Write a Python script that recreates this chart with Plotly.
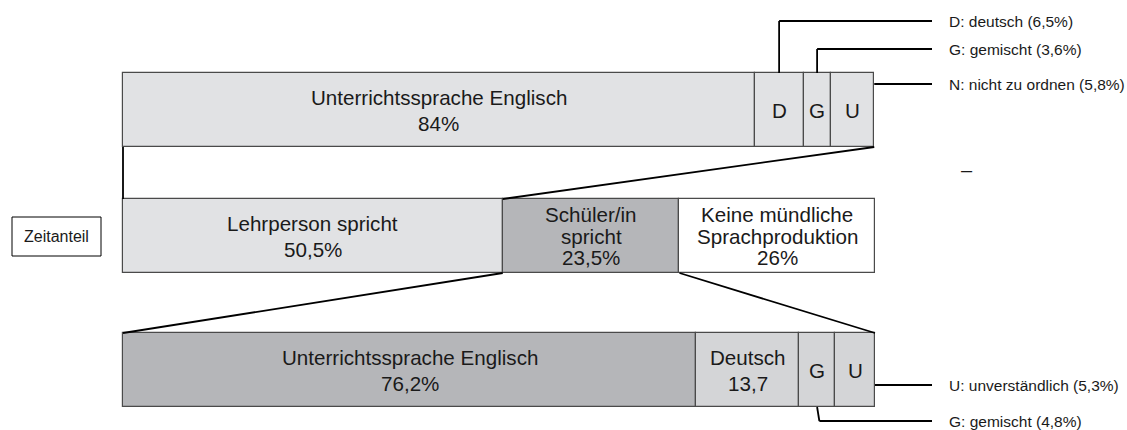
import plotly.graph_objects as go

# ---------------- data ----------------
top_labels = ["Unterrichtssprache Englisch<br>84%", "D", "G", "U"]
top_values = [84, 6.5, 3.6, 5.8]

mid_labels = ["Lehrperson spricht<br>50,5%", "Schüler/in<br>spricht<br>23,5%",
              "Keine mündliche<br>Sprachproduktion<br>26%"]
mid_values = [50.5, 23.5, 26]

bot_labels = ["Unterrichtssprache Englisch<br>76,2%", "Deutsch<br>13,7", "G", "U"]
bot_values = [76.2, 13.7, 4.8, 5.3]

top_callouts = ["D: deutsch (6,5%)", "G: gemischt (3,6%)", "N: nicht zu ordnen (5,8%)"]
bot_callouts = ["U: unverständlich (5,3%)", "G: gemischt (4,8%)"]
side_label = "Zeitanteil"
dash_label = "–"

# ---------------- styling / layout ----------------
W, H = 1127, 430
PLOT_L, PLOT_R = 123, 875
SCALE = (PLOT_R - PLOT_L) / 100.0


def px(xp):
    return (xp - PLOT_L) / SCALE


LIGHT = "#e1e2e4"
DARK = "#b5b6b9"
MIDG = "#d4d5d7"
WHITE = "#ffffff"
top_colors = [LIGHT, LIGHT, LIGHT, LIGHT]
mid_colors = [LIGHT, DARK, WHITE]
bot_colors = [DARK, MIDG, MIDG, MIDG]

ROW_H = 74
rows = [
    (top_labels, top_values, top_colors, 110),
    (mid_labels, mid_values, mid_colors, 236),
    (bot_labels, bot_values, bot_colors, 370),
]
FONT = "Liberation Sans, Arial, sans-serif"
TXT = "#1a1a1a"
BIG = 20.6
SMALL = 15.5

fig = go.Figure()
annotations = []
shapes = []


def starts(vals):
    out, acc = [], 0.0
    for v in vals:
        out.append(acc)
        acc += v
    return out


for labels, vals, colors, yc in rows:
    b = starts(vals)
    fig.add_trace(go.Bar(
        orientation="h", y=[yc] * len(vals), x=vals, base=b,
        width=[ROW_H] * len(vals),
        marker=dict(color=colors, line=dict(color="#4a4a4a", width=1.2)),
        hoverinfo="skip", showlegend=False))
    for lab, v, s in zip(labels, vals, b):
        lines = lab.split("<br>")
        n = len(lines)
        sp = 26 if n <= 2 else 21.5
        for i, ln in enumerate(lines):
            annotations.append(dict(
                x=s + v / 2, y=yc + (i - (n - 1) / 2) * sp, text=ln,
                showarrow=False, xanchor="center", yanchor="middle",
                font=dict(family=FONT, size=BIG, color=TXT)))

top_y0, top_y1 = 110 - ROW_H / 2, 110 + ROW_H / 2
mid_y0, mid_y1 = 236 - ROW_H / 2, 236 + ROW_H / 2
bot_y0, bot_y1 = 370 - ROW_H / 2, 370 + ROW_H / 2

LINE = dict(color="black", width=1.8)


def seg(x0, y0, x1, y1):
    shapes.append(dict(type="line", x0=x0, y0=y0, x1=x1, y1=y1, line=LINE,
                       xref="x", yref="y"))


# connectors: top bar -> "Lehrperson spricht"; "Schüler/in spricht" -> bottom bar
ms = starts(mid_values)
seg(0, top_y1, ms[0], mid_y0)
seg(sum(top_values), top_y1, ms[0] + mid_values[0], mid_y0)
seg(ms[1], mid_y1, 0, bot_y0)
seg(ms[1] + mid_values[1], mid_y1, sum(bot_values), bot_y0)

X_END = px(932)
X_LAB = px(947)

# top callouts
ts = starts(top_values)
top_call_y = [21, 49, 84]
d_x = ts[1] + top_values[1] / 2
g_x = ts[2] + top_values[2] / 2
seg(d_x, top_y0, d_x, top_call_y[0]); seg(d_x, top_call_y[0], X_END, top_call_y[0])
seg(g_x, top_y0, g_x, top_call_y[1]); seg(g_x, top_call_y[1], X_END, top_call_y[1])
seg(sum(top_values), top_call_y[2], X_END, top_call_y[2])
for lab, yy in zip(top_callouts, top_call_y):
    annotations.append(dict(x=X_LAB, y=yy, text=lab, showarrow=False,
                            xanchor="left", yanchor="middle",
                            font=dict(family=FONT, size=SMALL, color=TXT)))

# bottom callouts
bs = starts(bot_values)
bot_call_y = [385, 421]
seg(sum(bot_values), bot_call_y[0], X_END, bot_call_y[0])
bg_x = bs[2] + bot_values[2] / 2
seg(bg_x, bot_y1, bg_x + 0.3, bot_call_y[1]); seg(bg_x + 0.3, bot_call_y[1], X_END, bot_call_y[1])
for lab, yy in zip(bot_callouts, bot_call_y):
    annotations.append(dict(x=X_LAB, y=yy, text=lab, showarrow=False,
                            xanchor="left", yanchor="middle",
                            font=dict(family=FONT, size=SMALL, color=TXT)))

# side label box
shapes.append(dict(type="rect", x0=px(12), x1=px(101), y0=217, y1=256,
                   line=dict(color="black", width=1), fillcolor="white",
                   xref="x", yref="y"))
annotations.append(dict(x=px(56.5), y=236.5, text=side_label, showarrow=False,
                        xanchor="center", yanchor="middle",
                        font=dict(family=FONT, size=16, color=TXT)))

annotations.append(dict(x=px(967), y=170, text=dash_label, showarrow=False,
                        xanchor="center", yanchor="middle",
                        font=dict(family=FONT, size=20, color=TXT)))

fig.update_layout(
    width=W, height=H, margin=dict(l=0, r=0, t=0, b=0),
    paper_bgcolor="white", plot_bgcolor="white",
    barmode="overlay", bargap=0,
    xaxis=dict(range=[px(0), px(W)], visible=False, fixedrange=True),
    yaxis=dict(range=[H, 0], visible=False, fixedrange=True),
    annotations=annotations, shapes=shapes,
)

fig.write_html("out.html", config={"displayModeBar": False},
               post_script="document.body.style.margin='0';document.body.style.overflow='hidden';")
